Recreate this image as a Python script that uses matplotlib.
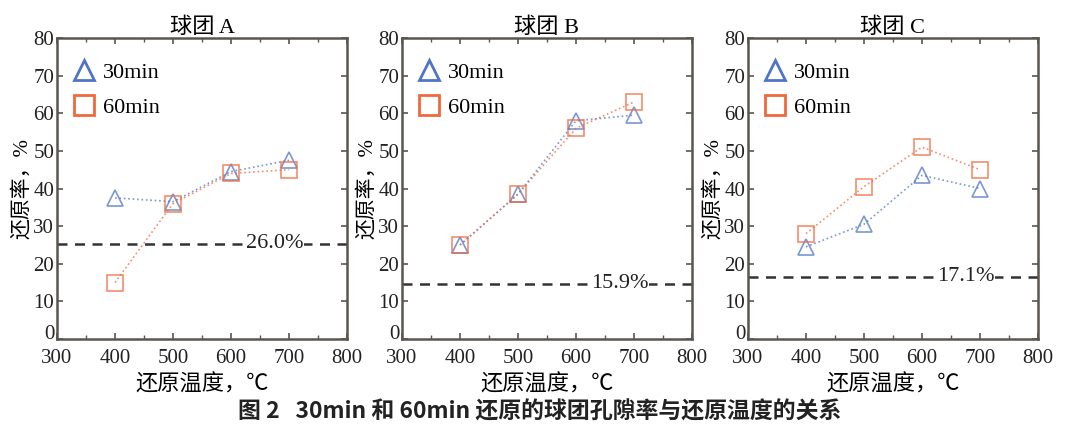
import numpy as np
import matplotlib.pyplot as plt
import matplotlib.transforms as mtransforms

plt.rcParams['font.family'] = ['Liberation Serif', 'Noto Sans CJK SC', 'DejaVu Sans']

temps = [400, 500, 600, 700]
titles = ['球团 A', '球团 B', '球团 C']
a_30 = [37.5, 36.5, 44.5, 47.5]
a_60 = [15.0, 36.0, 44.0, 45.0]
b_30 = [25.0, 38.5, 58.0, 59.5]
b_60 = [25.0, 38.5, 56.0, 63.0]
c_30 = [24.5, 30.5, 43.5, 40.0]
c_60 = [28.0, 40.5, 51.0, 45.0]
ref_lines = [25.3, 14.7, 16.6]
ref_labels = ['26.0%', '15.9%', '17.1%']

series_30 = [a_30, b_30, c_30]
series_60 = [a_60, b_60, c_60]

blue = '#4f74c8'
orange = '#f0683c'
frame = '#5a5550'

fig = plt.figure(figsize=(10.8, 4.34), dpi=100)
lefts = [57, 402, 748]
for i in range(3):
    ax = fig.add_axes([lefts[i] / 1080, 95 / 434, 290 / 1080, 301 / 434])
    ax.plot(temps, series_30[i], linestyle=':', color=blue, lw=1.2, alpha=0.75,
            marker='^', ms=12, mfc='none', mec=blue, mew=1.2, label='30min')
    ax.plot(temps, series_60[i], linestyle=':', color=orange, lw=1.2, alpha=0.75,
            marker='s', ms=12, mfc='none', mec=orange, mew=1.2, label='60min')
    ax.axhline(ref_lines[i], color='#333333', ls='--', lw=1.8, dashes=(4, 3))
    ax.text(675, ref_lines[i], ref_labels[i], ha='center', va='center', fontsize=16,
            color='#222222', bbox=dict(facecolor='white', edgecolor='none', pad=0.3))
    ax.set_xlim(300, 800)
    ax.set_ylim(0, 80)
    ax.set_xticks([300, 400, 500, 600, 700, 800])
    ax.set_xticks([350, 450, 550, 650, 750], minor=True)
    ax.set_yticks(np.arange(0, 81, 10))
    ax.tick_params(direction='in', top=True, right=True, labelsize=15, length=4,
                   color=frame, width=1.2, labelcolor='#222222')
    ax.tick_params(axis='x', pad=7)
    ax.tick_params(axis='y', pad=2)
    ax.tick_params(which='minor', direction='in', top=True, right=True, length=3,
                   color=frame, width=1.0)
    # lift the "0" label a little so it clears "300"
    zero_lab = ax.get_yticklabels()[0]
    zero_lab.set_transform(zero_lab.get_transform() +
                           mtransforms.ScaledTranslation(0, 5 / 72, fig.dpi_scale_trans))
    for s in ax.spines.values():
        s.set_color(frame)
        s.set_linewidth(1.8)
    ax.set_title(titles[i], fontsize=16, pad=3)
    ax.set_xlabel('还原温度，℃', fontsize=16, labelpad=5)
    ax.set_ylabel('还原率，%', fontsize=15, labelpad=1)
    leg = ax.legend(loc='upper left', bbox_to_anchor=(0, 0.977), frameon=False,
                    fontsize=16, handlelength=0.8, handletextpad=0.45,
                    borderaxespad=0.6, labelspacing=0.65, markerscale=1.15,
                    borderpad=0.2)
    for h in leg.legend_handles:
        h.set_linestyle('none')
        h.set_alpha(1.0)
        h.set_markeredgewidth(2.0)

fig.text(0.5, 1 - 412 / 434, '图 2   30min 和 60min 还原的球团孔隙率与还原温度的关系',
         ha='center', va='center', fontsize=16.5, fontweight='bold',
         family=['Noto Sans CJK SC', 'DejaVu Sans'], color='#222222')

fig.savefig('out.png', dpi=100)
